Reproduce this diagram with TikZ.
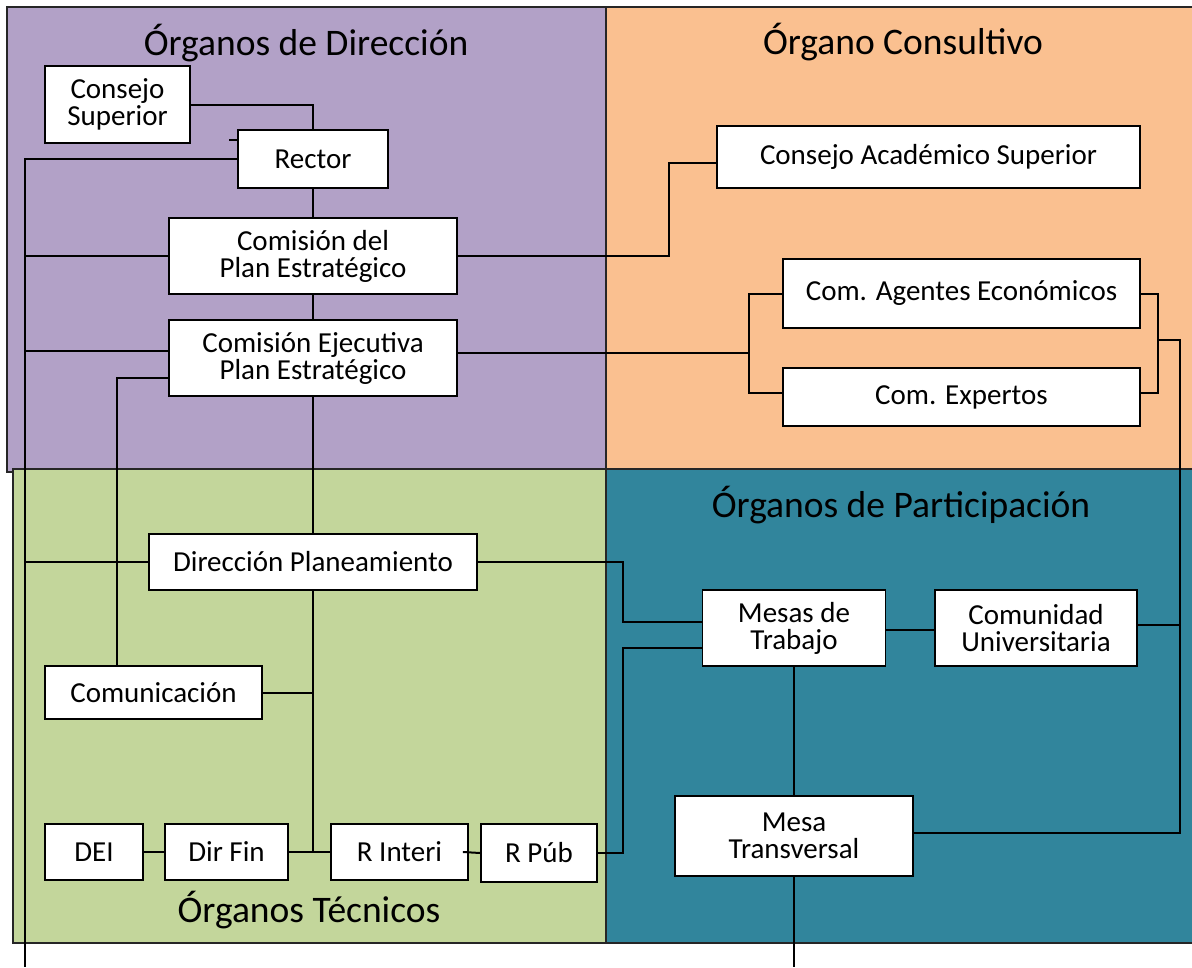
\documentclass[tikz,border=0pt]{standalone}
\usepackage{fontspec}
\setmainfont{Carlito}
\definecolor{morado}{HTML}{B2A1C7}
\definecolor{naranja}{HTML}{FAC090}
\definecolor{verde}{HTML}{C3D69B}
\definecolor{turquesa}{HTML}{31859C}

\begin{document}
\begin{tikzpicture}[x=1pt,y=-1pt,
    caja/.style={draw,fill=white,line width=1.8pt,inner sep=0pt,align=center,
      font=\fontsize{29}{27}\selectfont},
    titulo/.style={font=\fontsize{37.5}{40}\selectfont},
    panel/.style={draw=black!85,line width=1.8pt},
    linea/.style={line width=2pt}]
  \useasboundingbox (0,0) rectangle (1192,967);
  % paneles
  \draw[panel,fill=morado] (7,7) rectangle (606,472);
  \draw[panel,fill=naranja] (606,7) rectangle (1200,470);
  \draw[panel,fill=verde] (13,469) rectangle (606,943);
  \draw[panel,fill=turquesa] (606,469) rectangle (1200,943);
  \node[titulo] (tdir) at (306,43) {Órganos de Dirección};
  \node[titulo] (tcons) at (903,42) {Órgano Consultivo};
  \node[titulo] (tpar) at (901,505) {Órganos de Participación};
  \node[titulo] (ttec) at (309,910) {Órganos Técnicos};

  % direccion
  \node[caja,minimum width=145pt,minimum height=77pt] (cs) at (117.5,104.5) {Consejo\\Superior};
  \node[caja,minimum width=150pt,minimum height=58pt] (rector) at (313,159) {Rector};
  \node[caja,minimum width=288pt,minimum height=76pt] (cpe) at (313,256) {Comisión del\\Plan Estratégico};
  \node[caja,minimum width=288pt,minimum height=76pt] (cej) at (313,358) {Comisión Ejecutiva\\Plan Estratégico};
  % tecnicos
  \node[caja,minimum width=328pt,minimum height=56pt] (dp) at (313,562) {Dirección Planeamiento};
  \node[caja,minimum width=217pt,minimum height=53pt] (com) at (153.5,692.5) {Comunicación};
  \node[caja,minimum width=98pt,minimum height=56pt] (dei) at (94,852) {DEI};
  \node[caja,minimum width=123pt,minimum height=56pt] (dirfin) at (226.5,852) {Dir Fin};
  \node[caja,minimum width=137pt,minimum height=56pt] (rint) at (399.5,852) {R Interi};
  \node[caja,minimum width=116pt,minimum height=58pt] (rpub) at (539,853) {R Púb};
  % consultivo
  \node[caja,minimum width=423pt,minimum height=62pt] (cas) at (928.5,157) {Consejo Académico Superior};
  \node[caja,minimum width=357pt,minimum height=69pt] (cae) at (961.5,293.5) {Com. Agentes Económicos};
  \node[caja,minimum width=357pt,minimum height=58pt] (cex) at (961.5,397) {Com. Expertos};
  % participacion
  \node[caja,minimum width=183pt,minimum height=76pt] (mdt) at (794,628) {Mesas de\\Trabajo};
  \node[caja,minimum width=202pt,minimum height=76pt] (cu) at (1036,628) {Comunidad\\Universitaria};
  \node[caja,minimum width=238pt,minimum height=80pt] (mt) at (794,836) {Mesa\\Transversal};

  \coordinate (bus) at (25,967);
  \coordinate (bus2) at (117,378);
  \coordinate (k1) at (669,163);
  \coordinate (k2) at (749,353);
  \coordinate (k3) at (1158,340);
  \coordinate (k4) at (1180,340);
  \coordinate (k5) at (623,600);
  \coordinate (k6) at (623,700);
  \coordinate (bot) at (794,967);

  % lineas
  \draw[linea] (cs.east) -| (rector.north);
  \draw[linea] ([yshift=19pt]rector.west) -- ++(-8,0);
  \draw[linea] (rector.west) -| (bus);
  \draw[linea] (cpe.west) -- (cpe.west -| bus);
  \draw[linea] ([yshift=7pt]cej.west) -- ([yshift=7pt]cej.west -| bus);
  \draw[linea] (dp.west) -- (dp.west -| bus);
  \draw[linea] (cej.west |- bus2) -- (bus2) -- (bus2 |- com.north);
  \draw[linea] (rector.south) -- (cpe.north);
  \draw[linea] (cpe.south) -- (cej.north);
  \draw[linea] (cej.south) -- (dp.north);
  \draw[linea] (dp.south) -- (dp.south |- rint.west);
  \draw[linea] (com.east) -- (com.east -| dp.south);
  \draw[linea] (dei.east) -- (dirfin.west);
  \draw[linea] (dirfin.east) -- (rint.west);
  \draw[linea] ([xshift=-6pt]rint.east) -- (rpub.west);
  \draw[linea] (cpe.east) -| (k1) -- (k1 -| cas.west);
  \draw[linea] ([yshift=5pt]cej.east) -- (k2);
  \draw[linea] (cae.west) -| (k2) |- ([yshift=4pt]cex.west);
  \draw[linea] (cae.east) -| (k3) |- ([yshift=4pt]cex.east);
  \draw[linea] (k3) -- (k4) |- ([yshift=3pt]mt.east);
  \draw[linea] ([yshift=3pt]cu.east) -- ([yshift=3pt]cu.east -| k4);
  \draw[linea] (dp.east) -| (k5) |- ([yshift=6pt]mdt.west);
  \draw[linea] (rpub.east) -| (k6) |- ([yshift=-20pt]mdt.west);
  \draw[linea] ([yshift=-2pt]mdt.east) -- ([yshift=-2pt]cu.west);
  \draw[linea] (mdt.south) -- (mt.north);
  \draw[linea] (mt.south) -- (bot);
\end{tikzpicture}
\end{document}
